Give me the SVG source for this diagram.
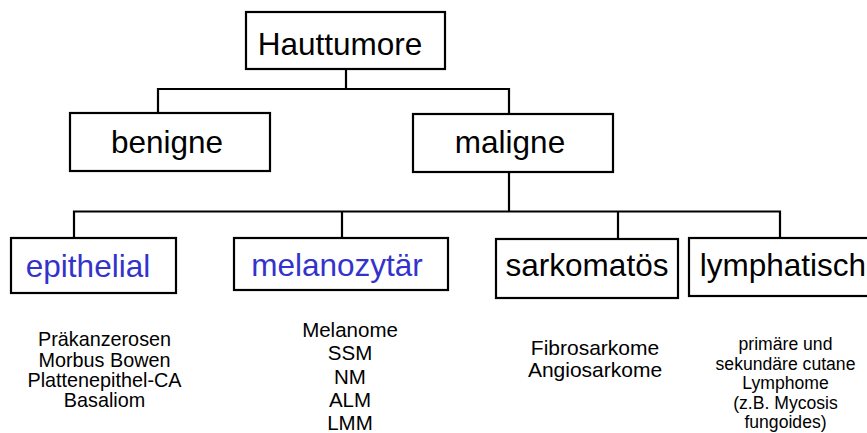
<svg xmlns="http://www.w3.org/2000/svg" width="867" height="433" viewBox="0 0 867 433">
<style>
.box{fill:#fff;stroke:#000;stroke-width:2.2}
.con{fill:none;stroke:#000;stroke-width:2.2}
.t{font-family:"Liberation Sans",Arial,sans-serif;fill:#000;text-anchor:middle}
.big{font-size:31.5px}
.blue{fill:#3333CC}
.s1{font-size:19.8px}
.s2{font-size:20.5px}
.s3{font-size:21px}
.s4{font-size:17.6px}
</style>
<rect width="867" height="433" fill="#fff"/>
<g id="connectors">
<path class="con" d="M346,69 V89 M158,113 V89 H509 V114"/>
<path class="con" d="M509,172 V211.5 M74,238 V211.5 H780 V238 M342,211.5 V238 M618,211.5 V239"/>
</g>
<g id="hauttumore">
<rect class="box" x="246" y="12" width="199" height="57"/>
<text class="t big" x="340" y="55">Hauttumore</text>
</g>
<g id="benigne">
<rect class="box" x="70" y="113" width="200" height="58"/>
<text class="t big" x="167" y="153">benigne</text>
</g>
<g id="maligne">
<rect class="box" x="413" y="114" width="200" height="58"/>
<text class="t big" x="510" y="153">maligne</text>
</g>
<g id="epithelial">
<rect class="box" x="11" y="238" width="165" height="55"/>
<text class="t big blue" x="88" y="277">epithelial</text>
<text class="t s1"><tspan x="104.5" y="346">Präkanzerosen</tspan><tspan x="104.5" y="366.5">Morbus Bowen</tspan><tspan x="104.5" y="387">Plattenepithel-CA</tspan><tspan x="104.5" y="407">Basaliom</tspan></text>
</g>
<g id="melanozytaer">
<rect class="box" x="234" y="238" width="214" height="52"/>
<text class="t big blue" x="337" y="276">melanozytär</text>
<text class="t s2"><tspan x="350" y="336.5">Melanome</tspan><tspan x="350" y="360">SSM</tspan><tspan x="350" y="383.5">NM</tspan><tspan x="350" y="406.5">ALM</tspan><tspan x="350" y="429.5">LMM</tspan></text>
</g>
<g id="sarkomatoes">
<rect class="box" x="496" y="239" width="182" height="59"/>
<text class="t big" x="587" y="276">sarkomatös</text>
<text class="t s3"><tspan x="595" y="355">Fibrosarkome</tspan><tspan x="595" y="377">Angiosarkome</tspan></text>
</g>
<g id="lymphatisch">
<rect class="box" x="689" y="238" width="182" height="58"/>
<text class="t big" x="783" y="276">lymphatisch</text>
<text class="t s4"><tspan x="785.5" y="350">primäre und</tspan><tspan x="785.5" y="369.5">sekundäre cutane</tspan><tspan x="785.5" y="389">Lymphome</tspan><tspan x="785.5" y="408.5">(z.B. Mycosis</tspan><tspan x="785.5" y="428">fungoides)</tspan></text>
</g>
</svg>
